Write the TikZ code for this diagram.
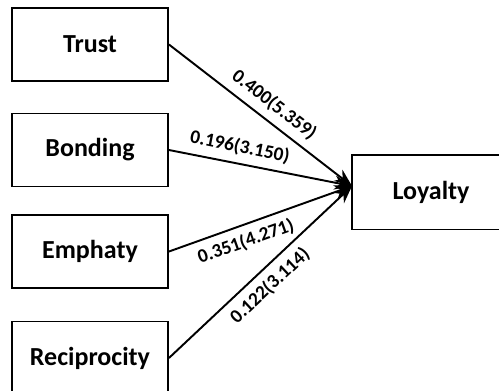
\documentclass[tikz,border=0pt]{standalone}
\usepackage{fontspec}
\setmainfont{Carlito}
\usetikzlibrary{arrows.meta}

\begin{document}
\begin{tikzpicture}[x=0.02cm,y=-0.02cm,
        var/.style={draw,line width=1.1pt,minimum width=3.12cm,minimum height=1.46cm,
            font=\fontsize{14.8}{16}\selectfont\bfseries},
        path/.style={line width=1.1pt,-{Stealth[length=10pt,width=8pt]}},
        coef/.style={sloped,font=\fontsize{11}{13}\selectfont\bfseries,inner sep=4pt}]
        \useasboundingbox (0,0) rectangle (499,390);
        \clip (0,0) rectangle (499,390);

        \node[var] (trust) at (90,44.5) {Trust};
        \node[var] (bonding) at (90,150) {Bonding};
        \node[var] (emphaty) at (90,251.5) {Emphaty};
        \node[var] (reciprocity) at (90,358) {Reciprocity};
        % right side of this box is cut off by the page
        \node[var,draw=none] (loyalty) at (431,192) {Loyalty};
        \draw[line width=1.1pt] (loyalty.north east) -| (loyalty.south west) -- (loyalty.south east);

        \coordinate (hub) at (352,186);

        \draw[path] (trust.east) -- node[coef,pos=0.52,above] {0.400(5.359)} (hub);
        \draw[path] (bonding.east) -- node[coef,pos=0.37,above] {0.196(3.150)} (hub);
        \draw[path] (emphaty.east) -- node[coef,pos=0.39,below] {0.351(4.271)} (hub);
        \draw[path] (reciprocity.east) -- node[coef,pos=0.49,below] {0.122(3.114)} (hub);
\end{tikzpicture}
\end{document}
